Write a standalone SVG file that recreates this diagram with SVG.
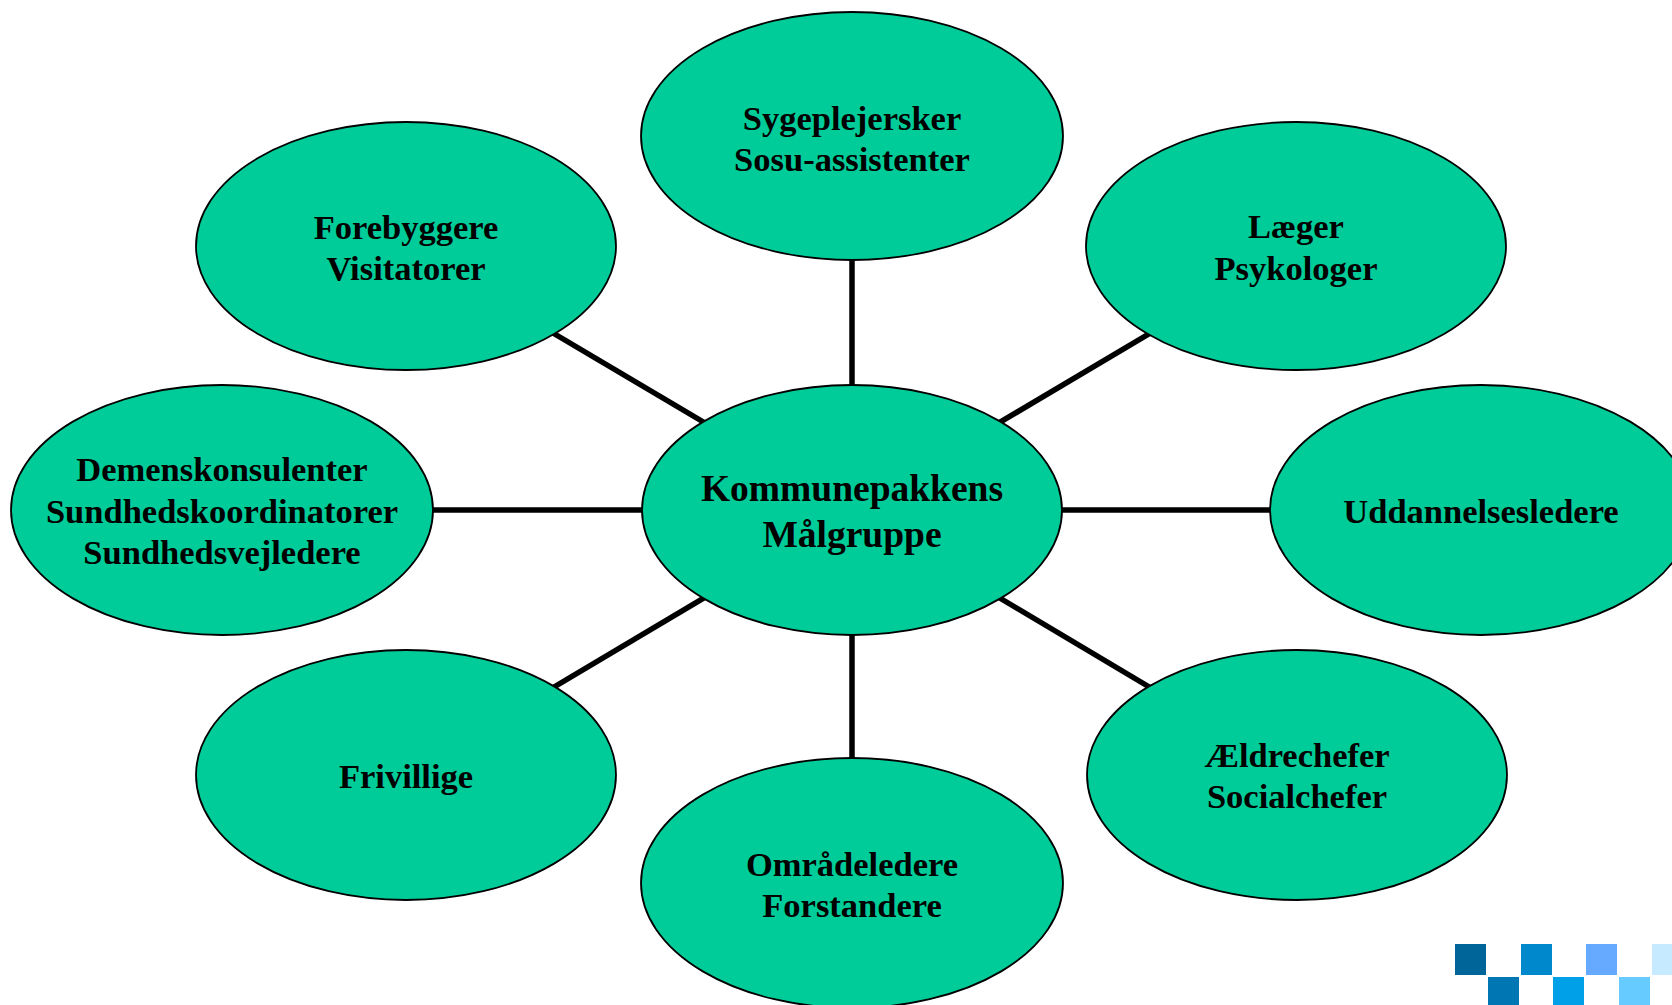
<svg xmlns="http://www.w3.org/2000/svg" width="1672" height="1005" viewBox="0 0 1672 1005">
<style>
.node ellipse{fill:#00CC99;stroke:#000;stroke-width:1.8}
.node text{font-family:"Liberation Serif","Times New Roman",serif;font-weight:bold;font-size:34.5px;text-anchor:middle;fill:#000}
#center text{font-size:37.5px}
#connectors line{stroke:#000;stroke-width:5.5}
</style>
<rect width="1672" height="1005" fill="#fff"/>
<g id="connectors">
<line x1="852" y1="510" x2="852" y2="136"/>
<line x1="852" y1="510" x2="852" y2="883"/>
<line x1="852" y1="510" x2="222" y2="510"/>
<line x1="852" y1="510" x2="1481" y2="510"/>
<line x1="852" y1="510" x2="406" y2="246"/>
<line x1="852" y1="510" x2="1297" y2="246"/>
<line x1="852" y1="510" x2="406" y2="775"/>
<line x1="852" y1="510" x2="1297" y2="775"/>
</g>
<g id="center" class="node"><ellipse cx="852" cy="510" rx="210" ry="125"/><text x="852" y="501">Kommunepakkens</text><text x="852" y="547">Målgruppe</text></g>
<g id="n-top" class="node"><ellipse cx="852" cy="136" rx="211" ry="124"/><text x="852" y="130">Sygeplejersker</text><text x="852" y="171">Sosu-assistenter</text></g>
<g id="n-bottom" class="node"><ellipse cx="852" cy="883" rx="211" ry="125"/><text x="852" y="876">Områdeledere</text><text x="852" y="917">Forstandere</text></g>
<g id="n-left" class="node"><ellipse cx="222" cy="510" rx="211" ry="125"/><text x="222" y="481">Demenskonsulenter</text><text x="222" y="523">Sundhedskoordinatorer</text><text x="222" y="564">Sundhedsvejledere</text></g>
<g id="n-right" class="node"><ellipse cx="1481" cy="510" rx="211" ry="125"/><text x="1481" y="523">Uddannelsesledere</text></g>
<g id="n-upleft" class="node"><ellipse cx="406" cy="246" rx="210" ry="124"/><text x="406" y="239">Forebyggere</text><text x="406" y="280">Visitatorer</text></g>
<g id="n-upright" class="node"><ellipse cx="1296" cy="246" rx="210" ry="124"/><text x="1296" y="238">Læger</text><text x="1296" y="280">Psykologer</text></g>
<g id="n-lowleft" class="node"><ellipse cx="406" cy="775" rx="210" ry="125"/><text x="406" y="788">Frivillige</text></g>
<g id="n-lowright" class="node"><ellipse cx="1297" cy="775" rx="210" ry="125"/><text x="1297" y="767">Ældrechefer</text><text x="1297" y="808">Socialchefer</text></g>
<g id="logo">
<rect x="1455" y="944" width="31" height="31" fill="#006699"/>
<rect x="1521" y="944" width="31" height="31" fill="#0088CC"/>
<rect x="1586" y="944" width="31" height="31" fill="#66AAFF"/>
<rect x="1652" y="944" width="31" height="31" fill="#C6EAFF"/>
<rect x="1488" y="977" width="31" height="31" fill="#0077B3"/>
<rect x="1553" y="977" width="31" height="31" fill="#00A0E8"/>
<rect x="1619" y="977" width="31" height="31" fill="#66CCFF"/>
</g>
</svg>
